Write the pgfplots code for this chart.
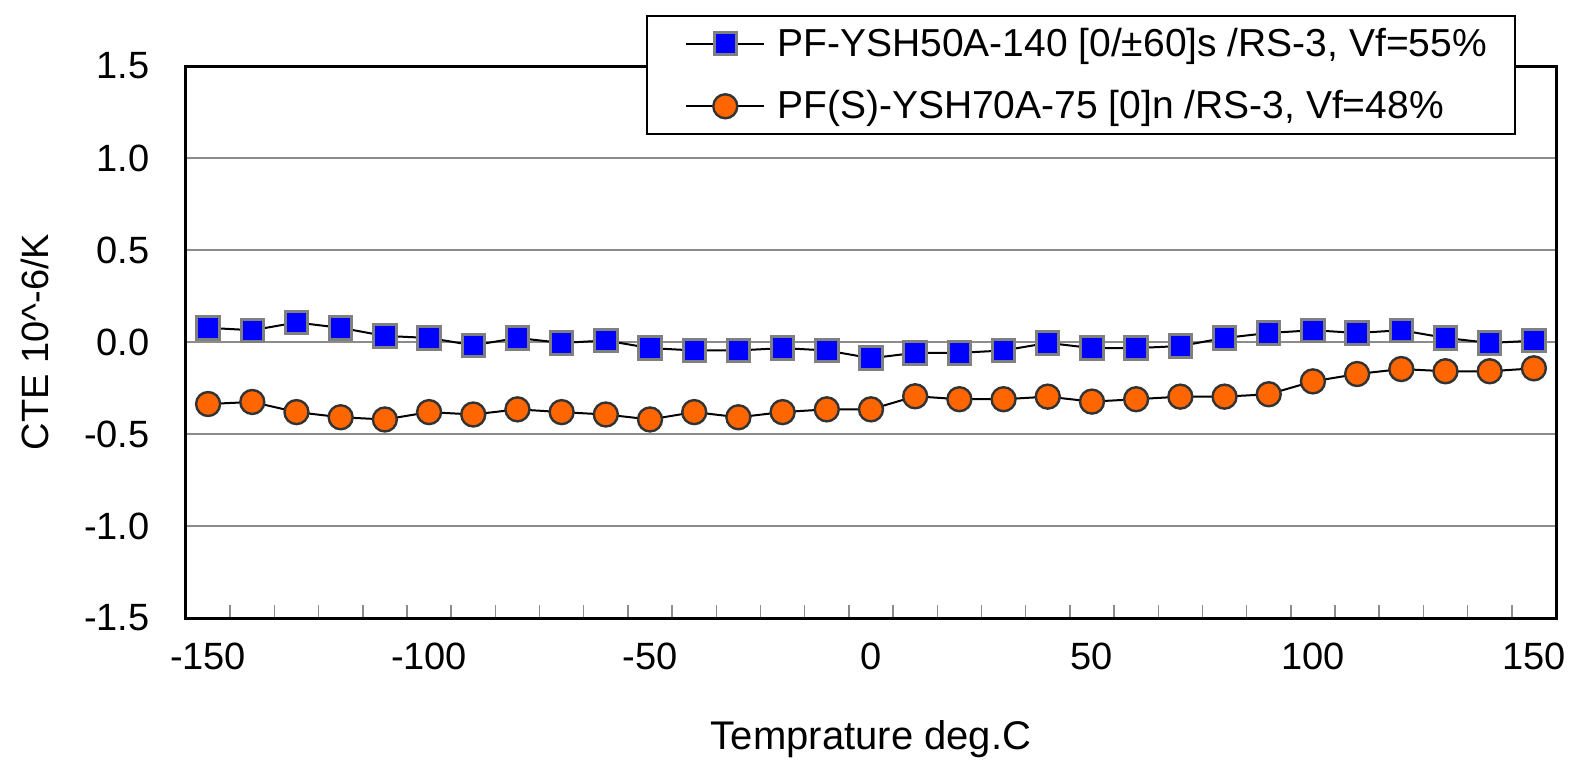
\documentclass[border=0pt]{standalone}
\usepackage{fontspec}
\setmainfont{Liberation Sans}
\usepackage{pgfplots}
\pgfplotsset{compat=1.18}

\definecolor{sqblue}{RGB}{0,0,255}
\definecolor{sqedge}{RGB}{128,128,128}
\definecolor{circorange}{RGB}{255,102,0}
\definecolor{circedge}{RGB}{51,51,51}
\definecolor{gridgray}{RGB}{140,140,140}

\begin{document}
\begin{tikzpicture}
\begin{axis}[
    scale only axis,
    width=685pt, height=276pt,
    xmin=-155, xmax=155,
    ymin=-1.5, ymax=1.5,
    xtick={-150,-100,...,150},
    xticklabels={-150,-100,-50,0,50,100,150},
    minor xtick={-145,-135,...,145},
    ytick={-1.5,-1,...,1.5},
    yticklabels={-1.5,-1.0,-0.5,0.0,0.5,1.0,1.5},
    xtick pos=bottom, ytick pos=left,
    ymajorgrids=true,
    grid style={gridgray, line width=0.75pt},
    axis line style={black, line width=1.5pt},
    major tick length=0pt,
    minor tick length=6.5pt,
    tick align=inside,
    minor tick style={gridgray, line width=0.75pt},
    tick label style={font=\fontsize{19}{22}\selectfont, inner sep=0pt},
    xticklabel style={yshift=-12.5pt},
    yticklabel style={xshift=-18pt},
    xlabel={Temprature deg.C},
    ylabel={CTE 10\textasciicircum-6/K},
    xlabel style={font=\fontsize{20}{23}\selectfont, at={(axis description cs:0.5,-0.2391)}, anchor=base},
    ylabel style={font=\fontsize{19}{22}\selectfont, at={(axis description cs:-0.1007,0.5)}, anchor=base},
    legend style={at={(axis description cs:0.336,1.0924)}, anchor=north west,
        draw=black, line width=1pt, fill=white,
        font=\fontsize{19.5}{23}\selectfont,
        inner xsep=10.5pt, inner ysep=1.5pt, row sep=6.7pt,
        nodes={inner xsep=3.5pt, inner ysep=4.5pt}},
    legend cell align=left,
    legend image code/.code={\path (0pt,0pt) (50pt,0pt);
        \draw[mark repeat=2, mark phase=2] plot coordinates {(8.5pt,0pt) (28pt,0pt) (47.5pt,0pt)};},
]
\addplot[black, line width=1pt, mark=square*, mark size=5.6pt,
    mark options={fill=sqblue, draw=sqedge, line width=1.5pt}]
    coordinates {(-150,0.077)(-140,0.064)(-130,0.106)(-120,0.077)(-110,0.033)(-100,0.022)
    (-90,-0.018)(-80,0.022)(-70,-0.005)(-60,0.008)(-50,-0.033)(-40,-0.046)(-30,-0.046)
    (-20,-0.033)(-10,-0.046)(0,-0.088)(10,-0.059)(20,-0.059)(30,-0.046)(40,-0.005)
    (50,-0.033)(60,-0.033)(70,-0.022)(80,0.022)(90,0.049)(100,0.064)(110,0.049)
    (120,0.064)(130,0.022)(140,-0.005)(150,0.007)};
\addplot[black, line width=1pt, mark=*, mark size=6pt,
    mark options={fill=circorange, draw=circedge, line width=1.2pt}]
    coordinates {(-150,-0.337)(-140,-0.326)(-130,-0.381)(-120,-0.409)(-110,-0.421)(-100,-0.381)
    (-90,-0.394)(-80,-0.366)(-70,-0.381)(-60,-0.394)(-50,-0.421)(-40,-0.381)(-30,-0.409)
    (-20,-0.381)(-10,-0.366)(0,-0.366)(10,-0.295)(20,-0.311)(30,-0.311)(40,-0.297)
    (50,-0.324)(60,-0.311)(70,-0.297)(80,-0.297)(90,-0.284)(100,-0.214)(110,-0.174)
    (120,-0.147)(130,-0.159)(140,-0.159)(150,-0.143)};
\legend{{PF-YSH50A-140 [0/±60]s /RS-3, Vf=55\%}, {PF(S)-YSH70A-75 [0]n /RS-3, Vf=48\%}}
\end{axis}
\pgfresetboundingbox
\path[use as bounding box] ([xshift=-93pt,yshift=-71.5pt]current axis.south west)
    rectangle ([xshift=692.5pt,yshift=309pt]current axis.south west);
\end{tikzpicture}
\end{document}
